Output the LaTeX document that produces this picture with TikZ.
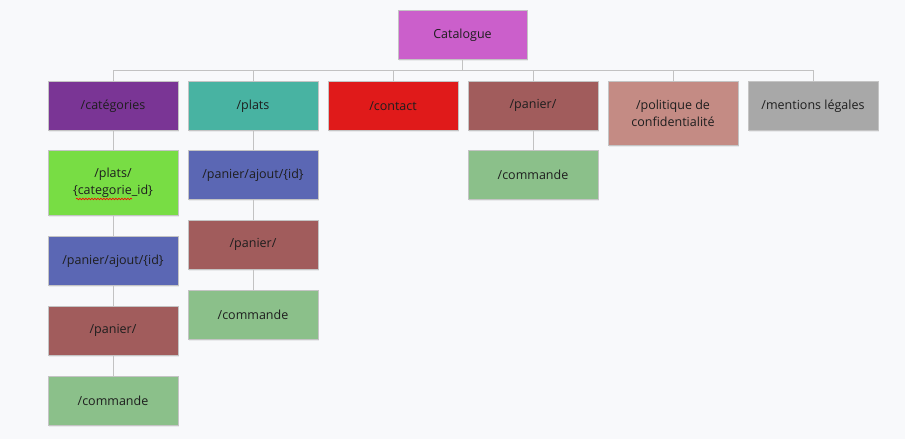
\documentclass[tikz,border=0pt]{standalone}
\usepackage{fontspec}
\setmainfont{Open Sans}
\usetikzlibrary{shadows,decorations.pathmorphing}
\definecolor{bg}{HTML}{F8F9FB}
\definecolor{edge}{HTML}{C4C4C4}
\definecolor{linec}{HTML}{C2C2C2}
\definecolor{txt}{HTML}{1E1E1E}
\definecolor{cRoot}{HTML}{CB5FCB}
\definecolor{cCat}{HTML}{7A3595}
\definecolor{cPlats}{HTML}{48B3A2}
\definecolor{cContact}{HTML}{E01A1A}
\definecolor{cPanier}{HTML}{A15C5C}
\definecolor{cPol}{HTML}{C48B84}
\definecolor{cMent}{HTML}{A8A8A8}
\definecolor{cGreen}{HTML}{78DD44}
\definecolor{cAjout}{HTML}{5B67B4}
\definecolor{cCmd}{HTML}{8BC08A}
\tikzset{
  box/.style={draw=edge, line width=0.8pt, minimum width=130pt, minimum height=49pt,
    anchor=north, align=center, inner sep=2pt, text=txt, font=\fontsize{12.5}{17}\selectfont,
    drop shadow={opacity=0.12, shadow xshift=1pt, shadow yshift=-2pt}},
  conn/.style={draw=linec, line width=0.8pt}
}
\begin{document}
\begin{tikzpicture}[x=1pt,y=-1pt]
\fill[bg] (0,0) rectangle (905,439);
\useasboundingbox (0,0) rectangle (905,439);
% root
\node[box, fill=cRoot, minimum width=129pt] (root) at (462.5,10) {Catalogue};
% row 1
\node[box, fill=cCat] (cat) at (113,81) {/catégories};
\node[box, fill=cPlats] (plats) at (253,81) {/plats};
\node[box, fill=cContact] (contact) at (393,81) {/contact};
\node[box, fill=cPanier] (panier) at (533,81) {/panier/};
\node[box, fill=cPol, minimum height=64pt] (pol) at (673,81) {/politique de\\confidentialité};
\node[box, fill=cMent] (ment) at (813,81) {/mentions légales};
% categories column
\node[box, fill=cGreen, minimum height=65pt] (catA) at (113,150) {/plats/\\\{categorie\_id\}};
\node[box, fill=cAjout] (catB) at (113,236) {/panier/ajout/\{id\}};
\node[box, fill=cPanier] (catC) at (113,306) {/panier/};
\node[box, fill=cCmd] (catD) at (113,376) {/commande};
% plats column
\node[box, fill=cAjout] (plA) at (253,150) {/panier/ajout/\{id\}};
\node[box, fill=cPanier] (plB) at (253,220) {/panier/};
\node[box, fill=cCmd] (plC) at (253,290) {/commande};
% panier column
\node[box, fill=cCmd] (paA) at (533,150) {/commande};
% spell-check squiggle
\draw[red, line width=0.6pt, decorate, decoration={snake, amplitude=0.8pt, segment length=3pt}] (76,199) -- (132,199);
% connectors
\coordinate (bus) at (462.5,70);
\draw[conn] (root.south) -- (bus);
\draw[conn] (cat.north) -- (cat.north |- bus) -- (ment.north |- bus) -- (ment.north);
\foreach \n in {plats,contact,panier,pol} \draw[conn] (\n.north) -- (\n.north |- bus);
\draw[conn] (cat.south) -- (catA.north);
\draw[conn] (catA.south) -- (catB.north);
\draw[conn] (catB.south) -- (catC.north);
\draw[conn] (catC.south) -- (catD.north);
\draw[conn] (plats.south) -- (plA.north);
\draw[conn] (plA.south) -- (plB.north);
\draw[conn] (plB.south) -- (plC.north);
\draw[conn] (panier.south) -- (paA.north);
\end{tikzpicture}
\end{document}
